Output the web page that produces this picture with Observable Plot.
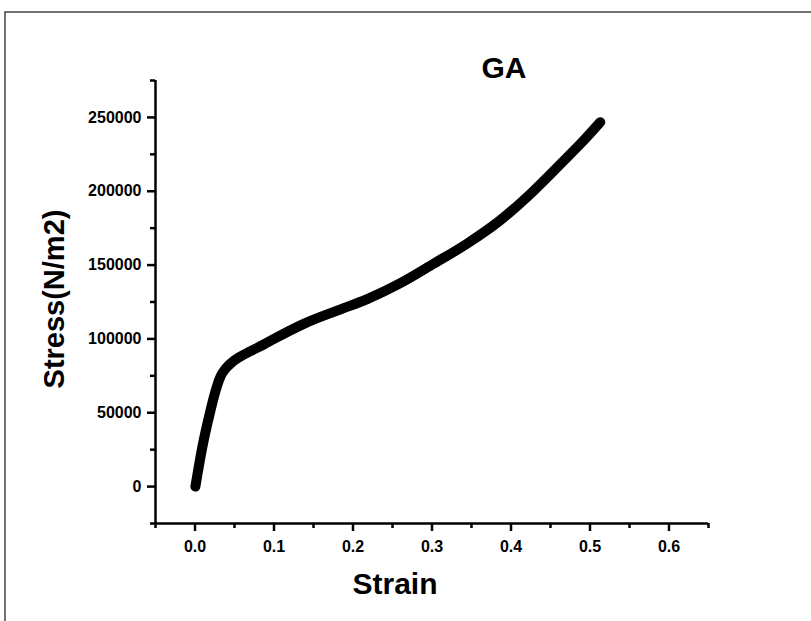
<!DOCTYPE html>
<html>
<head>
<meta charset="utf-8">
<script src="https://cdn.jsdelivr.net/npm/d3@7"></script>
<script src="https://cdn.jsdelivr.net/npm/@observablehq/plot@0.6"></script>
<style>
  html, body { margin: 0; padding: 0; background: #fff; }
  #chart { width: 811px; height: 621px; overflow: hidden; }
</style>
</head>
<body>
<div id="chart"></div>
<script>
// Stress–strain curve of the GA sample
const strain = [0.0005, 0.003, 0.009, 0.0196, 0.0238, 0.0281, 0.0323, 0.0386, 0.047, 0.0576,
                0.0703, 0.087, 0.1, 0.1377, 0.18, 0.218, 0.26, 0.302, 0.344, 0.386,
                0.429, 0.463, 0.492, 0.513];
const stress = [0, 8000, 26000, 51500, 60500, 68500, 74600, 79800, 84200, 88100,
                91700, 96200, 100000, 110200, 119200, 127000, 137800, 150900, 164400, 180200,
                200500, 218600, 234400, 246800];

const xTicks = [0, 0.1, 0.2, 0.3, 0.4, 0.5, 0.6];
const xMinor = [-0.05, 0.05, 0.15, 0.25, 0.35, 0.45, 0.55, 0.65];
const yTicks = [0, 50000, 100000, 150000, 200000, 250000];
const yMinor = [-25000, 25000, 75000, 125000, 175000, 225000, 275000];

const title = "GA";
const xLabel = "Strain";
const yLabel = "Stress(N/m2)";

const data = strain.map((s, i) => ({strain: s, stress: stress[i]}));

const xDomain = [-0.05, 0.65];
const yDomain = [-25000, 275000];

const font = "Liberation Sans, Arial, Helvetica, sans-serif";
const tickText = {fontSize: 16, fontWeight: "bold", letterSpacing: "-1px"};

const chart = Plot.plot({
  width: 811,
  height: 621,
  marginLeft: 155,
  marginRight: 103,
  marginTop: 80,
  marginBottom: 98,
  style: {fontFamily: font, fontSize: "16px", color: "#000", background: "#fff"},
  x: {domain: xDomain, label: null},
  y: {domain: yDomain, label: null},
  marks: [
    // axis lines
    Plot.ruleY([yDomain[0]], {stroke: "#000", strokeWidth: 2.5}),
    Plot.ruleX([xDomain[0]], {stroke: "#000", strokeWidth: 2.5}),
    // minor ticks
    Plot.axisX(xMinor, {tickSize: 5, strokeWidth: 2.5, text: null, label: null}),
    Plot.axisY(yMinor, {tickSize: 5, strokeWidth: 2.5, text: null, label: null}),
    // major ticks with labels
    Plot.axisX(xTicks, {tickSize: 8, strokeWidth: 2.5, tickPadding: 9,
      tickFormat: d3.format(".1f"), label: null, ...tickText}),
    Plot.axisY(yTicks, {tickSize: 8, strokeWidth: 2.5, tickPadding: 6,
      tickFormat: d => String(d), label: null, ...tickText}),
    // the curve
    Plot.line(data, {x: "strain", y: "stress", stroke: "#000", strokeWidth: 10,
      strokeLinecap: "round", strokeLinejoin: "round", curve: "monotone-x"}),
    // titles
    Plot.text([title], {frameAnchor: "top", dx: 72, dy: -24, fontSize: 30,
      fontWeight: "bold", fill: "#000"}),
    Plot.text([xLabel], {frameAnchor: "bottom", dx: -37, dy: 70, fontSize: 30,
      fontWeight: "bold", fill: "#000"}),
    Plot.text([yLabel], {frameAnchor: "left", dx: -101, dy: -3, rotate: -90, textAnchor: "middle",
      fontSize: 29, fontWeight: "bold", fill: "#000"})
  ]
});

// page border running off the right and bottom edges
d3.select(chart).append("rect")
  .attr("x", 5).attr("y", 12)
  .attr("width", 1000).attr("height", 1000)
  .attr("fill", "none").attr("stroke", "#444").attr("stroke-width", 1.5);

document.getElementById("chart").append(chart);
</script>
</body>
</html>
